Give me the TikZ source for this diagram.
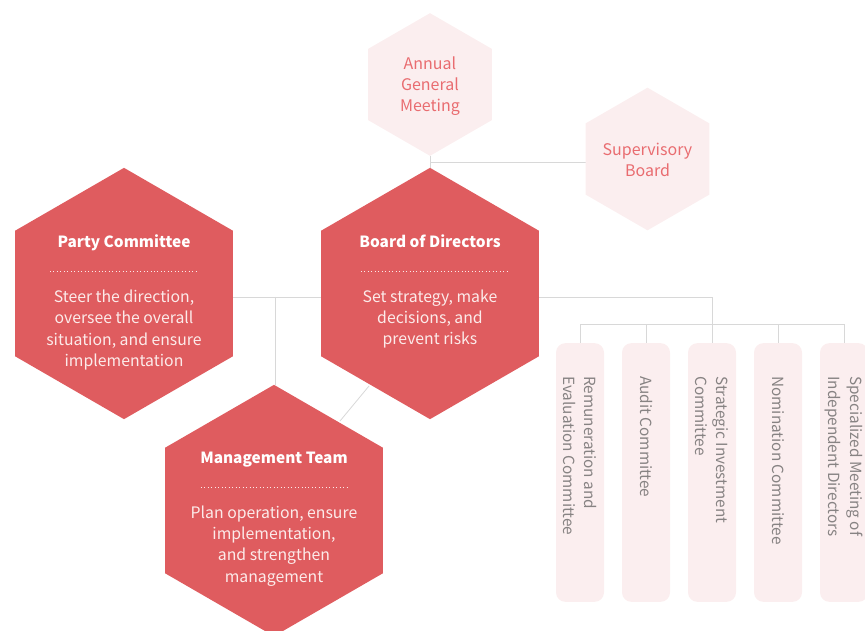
\documentclass[tikz,border=0pt]{standalone}
\usepackage{fontspec}
\setmainfont{Noto Sans CJK SC}
\usetikzlibrary{shapes.geometric,backgrounds}
\definecolor{hexred}{HTML}{DF5C5F}
\definecolor{hexpale}{HTML}{FBEEEF}
\definecolor{hextext}{HTML}{E96C70}
\definecolor{boxtext}{HTML}{878383}
\definecolor{linkgrey}{HTML}{D8D8D8}
\definecolor{bodytext}{HTML}{FCEBEA}
\begin{document}
\begin{tikzpicture}[x=0.75pt,y=-0.75pt]
	\tikzstyle{bighex}=[regular polygon,regular polygon sides=6,regular polygon rotate=30,fill=hexred,draw=none,minimum size=188.5pt,inner sep=0pt,outer sep=0pt]
	\tikzstyle{smallhex}=[regular polygon,regular polygon sides=6,regular polygon rotate=30,fill=hexpale,draw=none,minimum size=107pt,inner sep=0pt,outer sep=0pt]
	\tikzstyle{hextitle}=[text=white,font=\fontsize{11.55}{16}\selectfont\bfseries,inner sep=0pt,anchor=base]
	\tikzstyle{hexbody}=[text=bodytext,font=\fontsize{11.85}{16}\selectfont,align=center,inner sep=0pt]
	\tikzstyle{palelabel}=[text=hextext,font=\fontsize{12}{16}\selectfont,align=center,inner sep=0pt]
	\tikzstyle{committee}=[fill=hexpale,rounded corners=7pt,minimum width=36pt,minimum height=194pt,inner sep=0pt,outer sep=0pt]
	\tikzstyle{committeelabel}=[text=boxtext,font=\fontsize{11.5}{16}\selectfont,align=left,rotate=-90,anchor=west,inner sep=0pt]
	\tikzstyle{link}=[draw=linkgrey,line width=0.6pt]
	\tikzstyle{titlerule}=[draw=bodytext,line width=0.6pt,dotted]

	\clip (0,0) rectangle (865,631);

	% Upper hexagons
	\node[smallhex] (annual) at (430,84.5) {};
	\node[smallhex] (supervisory) at (647.5,159) {};
	\node[palelabel] (annualtext) at (430,86) {Annual\\General\\Meeting};
	\node[palelabel] (supervisorytext) at (647.5,160) {Supervisory\\Board};

	% Main hexagons
	\node[bighex] (party) at (124,293.5) {};
	\node[bighex] (board) at (430,293.5) {};
	\node[bighex] (team) at (274,510.5) {};

	\node[hextitle] (partytitle) at (124,247.5) {Party Committee};
	\node[hextitle] (boardtitle) at (430,247.5) {Board of Directors};
	\node[hextitle] (teamtitle) at (274,463.5) {Management Team};

	\node[hexbody] (partybody) at (124,330) {Steer the direction,\\oversee the overall\\situation, and ensure\\implementation};
	\node[hexbody] (boardbody) at (430,319) {Set strategy, make\\decisions, and\\prevent risks};
	\node[hexbody] (teambody) at (274,546) {Plan operation, ensure\\implementation,\\and strengthen\\management};

	% Rules under the titles
	\draw[titlerule] (50,271) -- (199,271);
	\draw[titlerule] (361,271) -- (509,271);
	\draw[titlerule] (201,487) -- (349,487);

	% Committees
	\foreach \name/\x in {remuneration/580,audit/646,strategic/712,nomination/778,specialized/844}
		\node[committee] (\name) at (\x,472.5) {};

	\node[committeelabel] (remunerationtext) at (580,376) {Remuneration and\\Evaluation Committee};
	\node[committeelabel] (audittext) at (646.5,376) {Audit Committee};
	\node[committeelabel] (strategictext) at (712,376) {Strategic Investment\\Committee};
	\node[committeelabel] (nominationtext) at (778.5,376) {Nomination Committee};
	\node[committeelabel] (specializedtext) at (844,376) {Specialized Meeting of\\Independent Directors};

	% Connectors, behind the shapes
	\coordinate (supjoin) at (430,162);
	\coordinate (supin) at (586,162);
	\coordinate (teamjoin) at (275,297);
	\coordinate (teamtop) at (275,385);
	\coordinate (partyout) at (233,297);
	\coordinate (boardin) at (321,297);
	\coordinate (boardout) at (539,297);
	\coordinate (busdrop) at (712,297);
	\coordinate (busmid) at (712,324.5);
	\coordinate (busleft) at (580,324.5);
	\coordinate (busright) at (844,324.5);
	\coordinate (teamedge) at (340,421);
	\coordinate (boardedge) at (369,386);
	\begin{scope}[on background layer]
		\path[link] (annual) edge (board);
		\path[link] (supjoin) edge (supin);
		\path[link] (partyout) edge (boardin);
		\path[link] (teamjoin) edge (teamtop);
		\path[link] (teamedge) edge (boardedge);
		\draw[link] (boardout) -- (busdrop) -- (busmid);
		\draw[link] (busleft) -- (busright);
		\foreach \name/\x in {remuneration/580,audit/646,strategic/712,nomination/778,specialized/844}
			\draw[link] (\x,324.5) -- (\name);
	\end{scope}
\end{tikzpicture}
\end{document}
